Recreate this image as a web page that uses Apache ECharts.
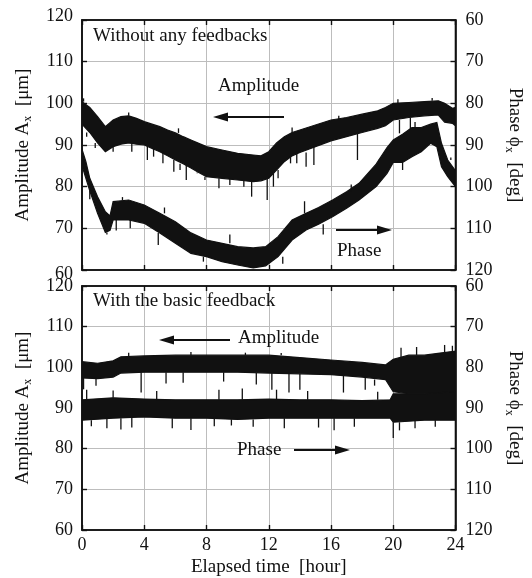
<!DOCTYPE html>
<html>
<head>
<meta charset="utf-8">
<script src="https://cdn.jsdelivr.net/npm/echarts@6/dist/echarts.min.js"></script>
<style>
  html, body { margin: 0; padding: 0; background: #fff; }
  #chart { width: 532px; height: 578px; }
</style>
</head>
<body>
<div id="chart"></div>
<script>
// axis ticks
const xTicks = [0, 4, 8, 12, 16, 20, 24];          // elapsed time [hour]
const yTicks = [60, 70, 80, 90, 100, 110, 120];    // amplitude [um] / phase [deg]

// top panel: without any feedbacks -- band envelopes (lo / hi)
const topAmpT  = [0, 0.5, 1, 1.5, 2, 2.5, 3, 3.5, 4, 4.5, 5, 5.5, 6, 6.5, 7, 7.5, 8, 9, 10, 11, 11.5, 12, 12.5, 13, 13.5, 14, 15, 16, 17, 18, 19, 19.5, 20, 21, 22, 22.9, 23.3, 23.8, 24];
const topAmpLo = [95, 93, 90.5, 88.4, 89.6, 90.2, 90.5, 90.2, 90, 89.2, 88.4, 87.4, 86.4, 85.5, 84.5, 83.4, 82.4, 82, 81.6, 81.2, 81.4, 82, 84, 86, 87.4, 88.2, 89.6, 91, 92, 93, 94, 94.6, 96, 96.6, 97, 97.2, 95.5, 95.2, 94.6];
const topAmpHi = [100.4, 99, 96.8, 94.4, 96, 96.8, 97, 96.4, 95.6, 95, 94.4, 93.6, 92.9, 92, 91.2, 90.4, 89.6, 88.8, 88, 87.6, 87.4, 88.4, 90.5, 92, 93, 93.6, 94.8, 96, 96.6, 97.4, 98.2, 99, 100, 100.2, 100.4, 100.6, 100, 98.8, 99];
// noise spikes (tips) sticking out of the amplitude band
const topAmpSpikeT = [0.1, 0.3, 0.85, 2, 3, 3.2, 4.2, 4.6, 5.2, 5.9, 6.2, 6.3, 6.7, 7.4, 7.9, 8.8, 9.5, 10.4, 10.9, 11.9, 12.3, 12.6, 13.4, 13.5, 13.8, 14.4, 14.9, 16.5, 17.7, 20.3, 20.4, 21.1, 22.5];
const topAmpSpikeV = [101.2, 92, 89.3, 88.4, 97.8, 88.4, 86.4, 87.2, 85.6, 83.6, 94, 84, 81.6, 83.2, 81.6, 79.6, 80.4, 80, 77.6, 76.8, 80, 82, 85.6, 94.2, 85.6, 84.8, 85.2, 97, 86.4, 101, 92.8, 92, 101.3];

const topPhT  = [0, 0.25, 0.5, 1, 1.5, 1.8, 2, 3, 4, 5, 6, 7, 8, 9, 10, 11, 11.8, 12.6, 13.5, 14.4, 15.2, 16.1, 17, 17.8, 18.9, 19.6, 20, 20.6, 21.2, 21.8, 22.4, 22.8, 23.1, 23.5, 24];
const topPhLo = [91, 94, 98, 102.4, 106, 107, 103.6, 103.2, 104.4, 106.4, 108.4, 111.1, 112.8, 113.6, 114.4, 114.7, 114.4, 112, 108, 106.4, 105, 103.2, 101.2, 99.2, 94.6, 90.6, 88.8, 87.4, 85.8, 85.8, 85, 84.6, 89.6, 93.6, 96.2];
const topPhHi = [95, 98, 101, 106.4, 111, 110.5, 108, 108, 108.8, 111.1, 113.6, 116, 116.8, 118, 118.8, 119.5, 119, 116.8, 112.8, 110.4, 109, 107.2, 105.2, 103.2, 100, 96.8, 94.2, 94.2, 92.8, 91.6, 89.6, 90.4, 95.2, 97.6, 100];
const topPhSpikeT = [0.5, 1.6, 2.2, 2.6, 3.1, 4.9, 5.3, 7.8, 9.5, 12.9, 14.3, 15.5, 17.3, 19.1, 20.6, 21.4, 23.7];
const topPhSpikeV = [103, 111.5, 110.5, 102.5, 110, 114, 105, 118, 111.5, 118.5, 103.5, 111.5, 99.5, 93.5, 96, 84.5, 93];

// bottom panel: with the basic feedback
const botAmpT  = [0, 1, 2, 2.5, 4, 6, 8, 10, 12, 14, 16, 18, 19.5, 20, 21, 22, 23, 24];
const botAmpLo = [97.4, 97.2, 97.6, 98.6, 98.8, 98.8, 98.8, 98.8, 98.6, 98.4, 98.2, 97.6, 97, 94, 93.5, 93.5, 93.5, 94];
const botAmpHi = [101.4, 101, 101.6, 102.6, 102.8, 103, 103, 103, 103, 102.4, 101.8, 101.2, 100.6, 102, 103, 103, 103.5, 104];
const botAmpSpikeT = [0.1, 0.9, 3, 3.8, 5.4, 6.5, 7, 9.1, 10.5, 11.2, 12.2, 12.8, 13.3, 14, 16.8, 18.2, 18.8, 20.5, 21.5, 23.3, 23.8];
const botAmpSpikeV = [94.6, 95.5, 103.6, 93.8, 96, 96.2, 103.8, 96.5, 103.6, 95.8, 94.5, 103.5, 93.8, 94.5, 93.8, 94.5, 95.5, 104.8, 105, 105.5, 105.3];

const botPhT  = [0, 2, 4, 6, 8, 10, 12, 14, 16, 18, 19.8, 20, 22, 24];
const botPhLo = [88, 87.5, 87.8, 88, 88, 88, 87.8, 88, 88, 88.2, 88, 86.5, 86.5, 86];
const botPhHi = [93, 92.5, 92.2, 92.5, 92.5, 92.8, 92.5, 92.5, 92.5, 92.5, 92.5, 93.5, 93, 93];
const botPhSpikeT = [0.3, 0.6, 1.6, 2, 2.5, 3.2, 4.8, 5.8, 7, 8.5, 8.8, 9.6, 10.3, 11, 12.5, 13, 14.5, 15.2, 16.2, 17.5, 19, 20, 20.4, 21.4, 22.7];
const botPhSpikeV = [85.5, 94.5, 95, 85.7, 95.3, 94.8, 85.8, 95, 95.4, 94.5, 85.5, 94.3, 85.2, 94.6, 85.5, 95, 85.8, 94.8, 95.5, 94.6, 86, 97.4, 95.5, 95, 94.6];

const FONT = 'Liberation Serif';
const INK = '#111';

// filled band between lo and hi, drawn as one polygon
const band = (gi, yi, t, lo, hi) => ({
  type: 'custom',
  xAxisIndex: gi * 2,
  yAxisIndex: gi * 2 + yi,
  silent: true,
  clip: true,
  data: t.map((v, i) => [v, lo[i], hi[i]]),
  encode: { x: 0, y: [1, 2] },
  renderItem: (params, api) => {
    if (params.dataIndex !== 0) return;
    const pts = [];
    for (let i = 0; i < t.length; i++) pts.push(api.coord([t[i], hi[i]]));
    for (let i = t.length - 1; i >= 0; i--) pts.push(api.coord([t[i], lo[i]]));
    return {
      type: 'polygon',
      shape: { points: pts },
      style: { fill: INK, stroke: INK, lineWidth: 1.2 },
    };
  },
});

// single noise spikes sticking out of the band
const spikes = (gi, yi, st, sv, t, lo, hi) => ({
  type: 'custom',
  xAxisIndex: gi * 2,
  yAxisIndex: gi * 2 + yi,
  silent: true,
  clip: true,
  data: st.map((v, i) => [v, sv[i]]),
  encode: { x: 0, y: 1 },
  renderItem: (params, api) => {
    const x = api.value(0);
    const v = api.value(1);
    // nearest envelope sample for the spike root
    let k = 0;
    t.forEach((tt, i) => { if (Math.abs(tt - x) < Math.abs(t[k] - x)) k = i; });
    const root = v < lo[k] ? lo[k] : hi[k];
    const p1 = api.coord([x, v]);
    const p2 = api.coord([x, root]);
    return {
      type: 'line',
      shape: { x1: p1[0], y1: p1[1], x2: p2[0], y2: p2[1] },
      style: { stroke: INK, lineWidth: 1.3 },
    };
  },
});

const grids = [
  { left: 82, top: 20, width: 374, height: 250 },
  { left: 82, top: 286, width: 374, height: 250 },
];

const lab = { fontFamily: FONT, fontSize: 18, color: INK };
const axLine = { show: true, onZero: false, lineStyle: { color: INK, width: 1.6 } };
const tick = { show: true, inside: true, length: 5, lineStyle: { color: INK, width: 1.4 } };
const grey = { show: true, showMinLine: false, showMaxLine: false, lineStyle: { color: '#bdbdbd', width: 1 } };

const xAxes = [];
const yAxes = [];
grids.forEach((g, gi) => {
  const base = {
    type: 'value', gridIndex: gi,
    min: xTicks[0], max: xTicks[xTicks.length - 1], interval: xTicks[1] - xTicks[0],
    axisLine: axLine, axisTick: tick,
  };
  xAxes.push(Object.assign({}, base, {
    position: 'bottom',
    splitLine: grey,
    axisLabel: gi === 1 ? Object.assign({ margin: 6 }, lab) : { show: false },
    name: gi === 1 ? 'Elapsed time  [hour]' : '',
    nameLocation: 'middle',
    nameGap: 28,
    nameTextStyle: { fontFamily: FONT, fontSize: 19, color: INK },
  }));
  xAxes.push(Object.assign({}, base, {
    position: 'top', splitLine: { show: false }, axisLabel: { show: false },
  }));

  const ybase = {
    type: 'value', gridIndex: gi,
    min: yTicks[0], max: yTicks[yTicks.length - 1], interval: yTicks[1] - yTicks[0],
    axisLine: axLine, axisTick: tick,
    nameLocation: 'middle',
  };
  // in the top panel the end labels are pushed apart from the lower panel's ones
  const shifted = (v) => {
    if (gi === 0 && v === yTicks[yTicks.length - 1]) return '{up|' + v + '}';
    if (gi === 0 && v === yTicks[0]) return '{dn|' + v + '}';
    return String(v);
  };
  const rich = {
    up: { fontFamily: FONT, fontSize: 18, color: INK, padding: [0, 0, 8, 0] },
    dn: { fontFamily: FONT, fontSize: 18, color: INK, padding: [8, 0, 0, 0] },
  };
  yAxes.push(Object.assign({}, ybase, {
    position: 'left',
    splitLine: grey,
    axisLabel: Object.assign({ margin: 9, formatter: shifted, rich: rich }, lab),
    name: 'Amplitude A{s|x}  [μm]',
    nameGap: 48,
    nameTextStyle: {
      fontFamily: FONT, fontSize: 19, color: INK,
      rich: { s: { fontFamily: FONT, fontSize: 12, color: INK, padding: [10, 0, 0, 0] } },
    },
  }));
  yAxes.push(Object.assign({}, ybase, {
    position: 'right',
    inverse: true,
    splitLine: { show: false },
    axisLabel: Object.assign({ margin: 10 }, lab),
    name: 'Phase ϕ{s|x}  [deg]',
    nameRotate: -90,
    nameGap: 48,
    nameTextStyle: {
      fontFamily: FONT, fontSize: 19, color: INK,
      rich: { s: { fontFamily: FONT, fontSize: 12, color: INK, padding: [10, 0, 0, 0] } },
    },
  }));
});

// annotation texts and arrows
const txt = (x, y, s) => ({
  type: 'text', left: x, top: y - 11,
  style: { text: s, fontFamily: FONT, fontSize: 19, fill: INK },
  z: 20,
});
const arrow = (x1, x2, y) => {
  const dir = x2 > x1 ? 1 : -1;
  return [
    { type: 'line', shape: { x1: x1, y1: y, x2: x2 - dir * 12, y2: y }, style: { stroke: INK, lineWidth: 2 }, z: 20 },
    { type: 'polygon', shape: { points: [[x2, y], [x2 - dir * 15, y - 4.5], [x2 - dir * 15, y + 4.5]] }, style: { fill: INK }, z: 20 },
  ];
};

const graphic = [
  txt(93, 38, 'Without any feedbacks'),
  txt(218, 88, 'Amplitude'),
  ...arrow(284, 213, 117),
  txt(337, 253, 'Phase'),
  ...arrow(336, 392, 230),
  txt(93, 303, 'With the basic feedback'),
  txt(238, 340, 'Amplitude'),
  ...arrow(230, 159, 340),
  txt(237, 452, 'Phase'),
  ...arrow(294, 350, 450),
];

const option = {
  backgroundColor: '#fff',
  animation: false,
  grid: grids.map((g) => Object.assign({ show: true, borderColor: INK, borderWidth: 1.6, backgroundColor: 'transparent' }, g)),
  xAxis: xAxes,
  yAxis: yAxes,
  graphic: graphic,
  series: [
    band(0, 0, topAmpT, topAmpLo, topAmpHi),
    spikes(0, 0, topAmpSpikeT, topAmpSpikeV, topAmpT, topAmpLo, topAmpHi),
    band(0, 1, topPhT, topPhLo, topPhHi),
    spikes(0, 1, topPhSpikeT, topPhSpikeV, topPhT, topPhLo, topPhHi),
    band(1, 0, botAmpT, botAmpLo, botAmpHi),
    spikes(1, 0, botAmpSpikeT, botAmpSpikeV, botAmpT, botAmpLo, botAmpHi),
    band(1, 1, botPhT, botPhLo, botPhHi),
    spikes(1, 1, botPhSpikeT, botPhSpikeV, botPhT, botPhLo, botPhHi),
  ],
};

const chart = echarts.init(document.getElementById('chart'), null, { renderer: 'canvas' });
chart.setOption(option);
</script>
</body>
</html>
